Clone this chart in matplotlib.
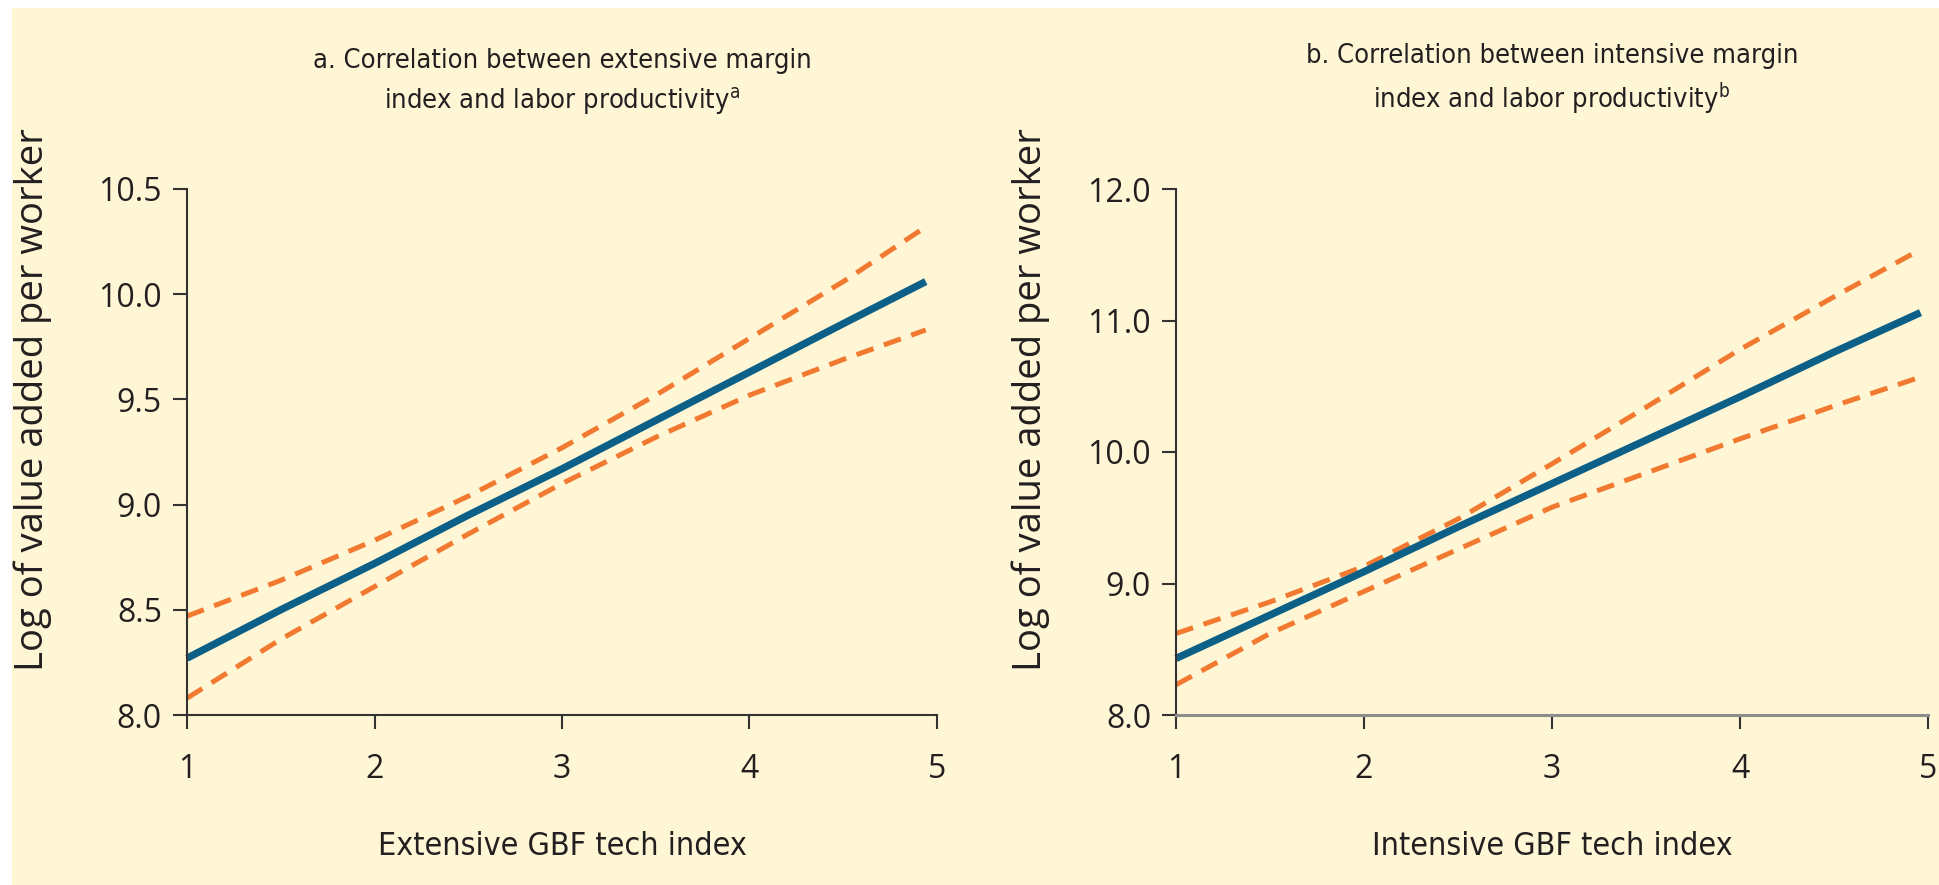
import numpy as np
import matplotlib.pyplot as plt
from matplotlib.patches import Rectangle

# panel a: extensive margin
ext_x = [1, 1.5, 2, 2.5, 3, 3.5, 4, 4.5, 4.94]
ext_fit = [8.27, 8.50, 8.72, 8.95, 9.17, 9.40, 9.63, 9.86, 10.06]
ext_hi = [8.47, 8.64, 8.83, 9.04, 9.27, 9.52, 9.79, 10.06, 10.32]
ext_lo = [8.08, 8.36, 8.61, 8.86, 9.10, 9.32, 9.52, 9.69, 9.83]

# panel b: intensive margin
int_x = [1, 1.5, 2, 2.5, 3, 3.5, 4, 4.5, 4.96]
int_fit = [8.43, 8.76, 9.09, 9.43, 9.76, 10.09, 10.42, 10.76, 11.06]
int_hi = [8.62, 8.86, 9.13, 9.49, 9.91, 10.34, 10.78, 11.18, 11.54]
int_lo = [8.23, 8.62, 8.94, 9.26, 9.58, 9.84, 10.10, 10.35, 10.57]

titles = ['a. Correlation between extensive margin\nindex and labor productivity$^{\\mathrm{a}}$',
          'b. Correlation between intensive margin\nindex and labor productivity$^{\\mathrm{b}}$']
xlabels = ['Extensive GBF tech index', 'Intensive GBF tech index']
ylabel = 'Log of value added per worker'
xticks = [1, 2, 3, 4, 5]
yticks_a = [8.0, 8.5, 9.0, 9.5, 10.0, 10.5]
yticks_b = [8.0, 9.0, 10.0, 11.0, 12.0]

bg = '#fef6d5'
blue = '#0c5f86'
orange = '#f27a30'
dark = '#333333'
txt = '#231f20'

plt.rcParams['font.family'] = ['DejaVu Sans']
plt.rcParams['font.stretch'] = 'condensed'
plt.rcParams['mathtext.fontset'] = 'custom'
plt.rcParams['mathtext.rm'] = 'DejaVu Sans:stretch=condensed'

fig = plt.figure(figsize=(19.39, 8.85), dpi=100)
fig.patch.set_facecolor('white')
fig.patches.append(Rectangle((12/1939, 0), 1, 1 - 8/885, transform=fig.transFigure,
                             facecolor=bg, edgecolor='none', zorder=-1))

ax1 = fig.add_axes([187/1939, 1 - 715/885, 750/1939, 526/885])
ax2 = fig.add_axes([1176/1939, 1 - 715/885, 752/1939, 526/885])

panels = [
    (ax1, ext_x, ext_fit, ext_hi, ext_lo, yticks_a, 0),
    (ax2, int_x, int_fit, int_hi, int_lo, yticks_b, 1),
]
ylab_x = [-0.18, -0.168]
for ax, x, fit, hi, lo, yt, i in panels:
    ax.set_facecolor('none')
    ax.plot(x, hi, color=orange, lw=3.6, ls=(0, (3.6, 2.2)), clip_on=False)
    ax.plot(x, lo, color=orange, lw=3.6, ls=(0, (3.6, 2.2)), clip_on=False)
    ax.plot(x, fit, color=blue, lw=5.3, solid_capstyle='butt', clip_on=False)
    ax.set_xlim(1, 5)
    ax.set_ylim(yt[0], yt[-1])
    ax.set_xticks(xticks)
    ax.set_yticks(yt)
    ax.set_yticklabels([f'{v:.1f}' for v in yt])
    ax.spines['top'].set_visible(False)
    ax.spines['right'].set_visible(False)
    ax.spines['left'].set_color(dark)
    ax.spines['left'].set_linewidth(1.5)
    ax.spines['bottom'].set_color(dark if i == 0 else '#8c8c8c')
    ax.spines['bottom'].set_linewidth(1.5 if i == 0 else 2.2)
    ax.tick_params(direction='out', length=10, width=1.5, color=dark, labelcolor=txt)
    ax.tick_params(axis='x', pad=17)
    ax.tick_params(axis='y', pad=8)
    for lab in ax.get_xticklabels() + ax.get_yticklabels():
        lab.set_family(['Open Sans', 'DejaVu Sans'])
        lab.set_stretch('normal')
        lab.set_fontsize(23)
    ax.set_title(titles[i], fontsize=19.5, color=txt, pad=58, linespacing=1.45)
    ax.set_xlabel(xlabels[i], fontsize=23, color=txt, labelpad=33)
    ax.set_ylabel(ylabel, fontsize=27.5, color=txt,
                  family=['Open Sans', 'DejaVu Sans'], stretch='normal')
    ax.yaxis.set_label_coords(ylab_x[i], 0.6)

fig.savefig('out.png', dpi=100, facecolor=fig.get_facecolor())
